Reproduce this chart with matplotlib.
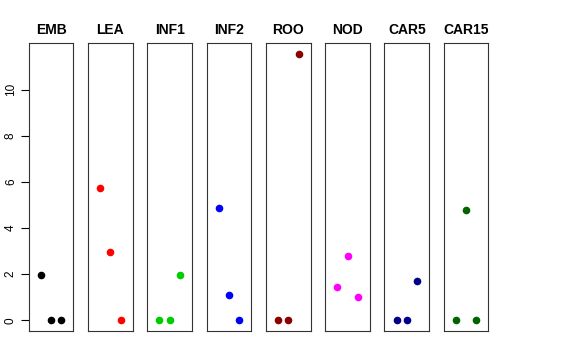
import numpy as np
import matplotlib.pyplot as plt

plt.rcParams['font.family'] = ['Liberation Sans', 'DejaVu Sans']

# Datos
tejidos = ['EMB', 'LEA', 'INF1', 'INF2', 'ROO', 'NOD', 'CAR5', 'CAR15']
colores = ['black', 'red', '#00CD00', 'blue', '#8B0000', 'magenta', '#00008B', '#006400']
replicas = [1, 2, 3]
valores = [
    [1.97, 0.0, 0.0],
    [5.74, 2.94, 0.0],
    [0.0, 0.0, 1.95],
    [4.87, 1.11, 0.0],
    [0.0, 0.0, 11.54],
    [1.43, 2.77, 1.01],
    [0.0, 0.0, 1.71],
    [0.0, 4.76, 0.0],
]
yticks = [0, 2, 4, 6, 8, 10]

W, H = 576, 360
fig = plt.figure(figsize=(W / 100, H / 100), dpi=100)

ymax = max(max(v) for v in valores)
ylim = (-0.04 * ymax, ymax * 1.04)

izq0, ancho, paso = 28.7, 44.7, 59.3
arriba, abajo = 43.3, 331.0

for i, (nombre, col, vals) in enumerate(zip(tejidos, colores, valores)):
    x0 = izq0 + i * paso
    ax = fig.add_axes([x0 / W, 1 - abajo / H, ancho / W, (abajo - arriba) / H])
    ax.scatter(replicas, vals, s=20, color=col, zorder=3)
    ax.set_xlim(-0.16, 4.16)
    ax.set_ylim(*ylim)
    ax.set_xticks([])
    for s in ax.spines.values():
        s.set_linewidth(0.8)
        s.set_color('#333333')
    ax.set_title(nombre, fontsize=10, fontweight='bold', pad=7)
    if i == 0:
        ax.set_yticks(yticks)
        ax.set_yticklabels([str(t) for t in yticks], rotation=90, va='center', fontsize=8.5)
        ax.tick_params(axis='y', length=5.5, width=0.8, pad=3)
    else:
        ax.set_yticks([])

fig.savefig('out.png', dpi=100)
